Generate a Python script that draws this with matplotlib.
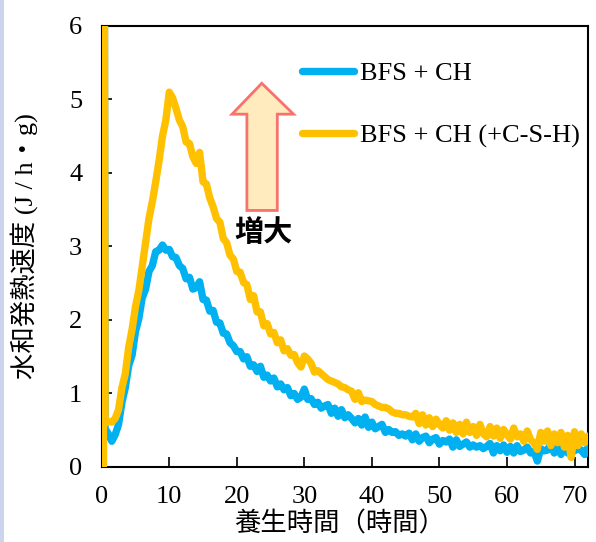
import numpy as np
import matplotlib.pyplot as plt
from matplotlib.patches import Polygon, Rectangle

# 養生時間 (h) : 0.5 h 間隔
hours = np.arange(0.5, 72.01, 0.5)

# 測定開始直後の注水ピーク
spike_t = [0.25, 0.40]
spike_v = [0.0, 7.0]

# BFS + CH の水和発熱速度 (J/h・g)
rate_ch = [
    0.52, 0.45, 0.35, 0.44, 0.58, 0.88, 1.08, 1.38, 1.52, 1.84,   # 0.5-5
    2.02, 2.30, 2.42, 2.66, 2.74, 2.93, 2.95, 3.02, 2.95, 2.96,   # 5.5-10
    2.86, 2.85, 2.74, 2.70, 2.56, 2.58, 2.42, 2.44, 2.52, 2.28,   # 10.5-15
    2.27, 2.12, 2.13, 1.97, 1.96, 1.82, 1.81, 1.69, 1.65, 1.57,   # 15.5-20
    1.57, 1.47, 1.50, 1.37, 1.39, 1.30, 1.37, 1.22, 1.25, 1.17,   # 20.5-25
    1.21, 1.09, 1.13, 1.05, 1.08, 0.97, 1.00, 0.92, 0.95, 1.06,   # 25.5-30
    0.92, 0.93, 0.85, 0.88, 0.80, 0.83, 0.85, 0.73, 0.80, 0.69,   # 30.5-35
    0.78, 0.67, 0.71, 0.66, 0.60, 0.66, 0.57, 0.68, 0.54, 0.61,   # 35.5-40
    0.52, 0.55, 0.58, 0.47, 0.51, 0.47, 0.48, 0.43, 0.45, 0.42,   # 40.5-45
    0.46, 0.37, 0.45, 0.35, 0.40, 0.42, 0.33, 0.38, 0.40, 0.31,   # 45.5-50
    0.36, 0.34, 0.38, 0.27, 0.37, 0.28, 0.31, 0.34, 0.27, 0.30,   # 50.5-55
    0.27, 0.29, 0.25, 0.28, 0.32, 0.19, 0.29, 0.22, 0.30, 0.20,   # 55.5-60
    0.28, 0.19, 0.29, 0.21, 0.23, 0.27, 0.19, 0.21, 0.08, 0.25,   # 60.5-65
    0.22, 0.23, 0.31, 0.19, 0.28, 0.17, 0.30, 0.19, 0.21, 0.22,   # 65.5-70
    0.25, 0.23, 0.17, 0.27,                                       # 70.5-72
]

# BFS + CH (+C-S-H) の水和発熱速度 (J/h・g)
rate_csh = [
    0.60, 0.62, 0.61, 0.66, 0.78, 1.08, 1.27, 1.63, 1.87, 2.18,   # 0.5-5
    2.40, 2.73, 3.07, 3.38, 3.61, 3.88, 4.17, 4.50, 4.72, 5.10,   # 5.5-10
    5.02, 4.88, 4.72, 4.63, 4.42, 4.40, 4.22, 4.13, 4.28, 3.88,   # 10.5-15
    3.85, 3.66, 3.54, 3.38, 3.33, 3.11, 3.05, 2.88, 2.83, 2.66,   # 15.5-20
    2.65, 2.51, 2.48, 2.28, 2.33, 2.11, 2.11, 1.92, 1.95, 1.81,   # 20.5-25
    1.83, 1.69, 1.73, 1.58, 1.61, 1.52, 1.53, 1.42, 1.36, 1.51,   # 25.5-30
    1.47, 1.41, 1.29, 1.31, 1.27, 1.23, 1.19, 1.17, 1.15, 1.13,   # 30.5-35
    1.09, 1.08, 1.05, 1.03, 0.92, 1.01, 0.89, 0.91, 0.90, 0.89,   # 35.5-40
    0.85, 0.83, 0.81, 0.81, 0.79, 0.75, 0.73, 0.73, 0.71, 0.71,   # 40.5-45
    0.69, 0.68, 0.73, 0.59, 0.71, 0.57, 0.67, 0.55, 0.65, 0.58,   # 45.5-50
    0.53, 0.63, 0.50, 0.60, 0.47, 0.58, 0.45, 0.61, 0.47, 0.55,   # 50.5-55
    0.43, 0.58, 0.45, 0.41, 0.55, 0.42, 0.53, 0.39, 0.51, 0.44,   # 55.5-60
    0.38, 0.53, 0.41, 0.45, 0.35, 0.49, 0.37, 0.33, 0.24, 0.47,   # 60.5-65
    0.35, 0.49, 0.29, 0.45, 0.33, 0.47, 0.27, 0.43, 0.13, 0.48,   # 65.5-70
    0.29, 0.45, 0.33, 0.42,                                       # 70.5-72
]

labels = ['BFS + CH', 'BFS + CH (+C-S-H)']
colors = ['#00b0f0', '#ffc000']

serif = ['Liberation Serif', 'Noto Sans CJK JP']
plt.rcParams['font.family'] = serif
plt.rcParams['font.size'] = 19

fig = plt.figure(figsize=(5.96, 5.42), dpi=100)
ax = fig.add_axes([0.1706, 0.1384, 0.8160, 0.8137])

# 左端の帯
fig.patches.append(Rectangle((0, 0), 4 / 596, 1, transform=fig.transFigure,
                             facecolor='#cad5ed', edgecolor='none', zorder=0))

t_all = np.concatenate([spike_t, hours])
for vals, lab, c in zip([rate_ch, rate_csh], labels, colors):
    ax.plot(t_all, np.concatenate([spike_v, vals]), color=c, lw=5.3,
            solid_joinstyle='round', solid_capstyle='round', label=lab, zorder=3)

ax.set_xlim(0, 72)
ax.set_ylim(0, 6)
ax.set_xticks(range(0, 71, 10))
ax.set_yticks(range(0, 7))
ax.tick_params(direction='in', length=7, width=1.2, pad=14, labelsize=19)
for s in ax.spines.values():
    s.set_linewidth(1.5)

ax.set_xlabel('養生時間（時間）', fontsize=19)
ax.set_ylabel('水和発熱速度 (J / h・g)', fontsize=19)
ax.xaxis.set_label_coords(0.49, -0.100)
ax.yaxis.set_label_coords(-0.130, 0.5)

# 増大を示す矢印
arrow = Polygon([(21.5, 3.49), (26.0, 3.49), (26.0, 4.80), (28.4, 4.80),
                 (23.7, 5.22), (19.3, 4.80), (21.5, 4.80)], closed=True,
                facecolor='#ffebbe', edgecolor='#f8716c', lw=2, zorder=4)
ax.add_patch(arrow)
ax.text(23.9, 3.20, '増大', ha='center', va='center', fontsize=21,
        fontweight='bold', family='Noto Sans CJK JP', zorder=4)

ax.legend(loc='upper left', bbox_to_anchor=(0.411, 0.919), frameon=False,
          handlelength=2.0, handletextpad=0.22, labelspacing=1.48,
          borderpad=0, borderaxespad=0, fontsize=19)

fig.savefig('out.png', dpi=100)
